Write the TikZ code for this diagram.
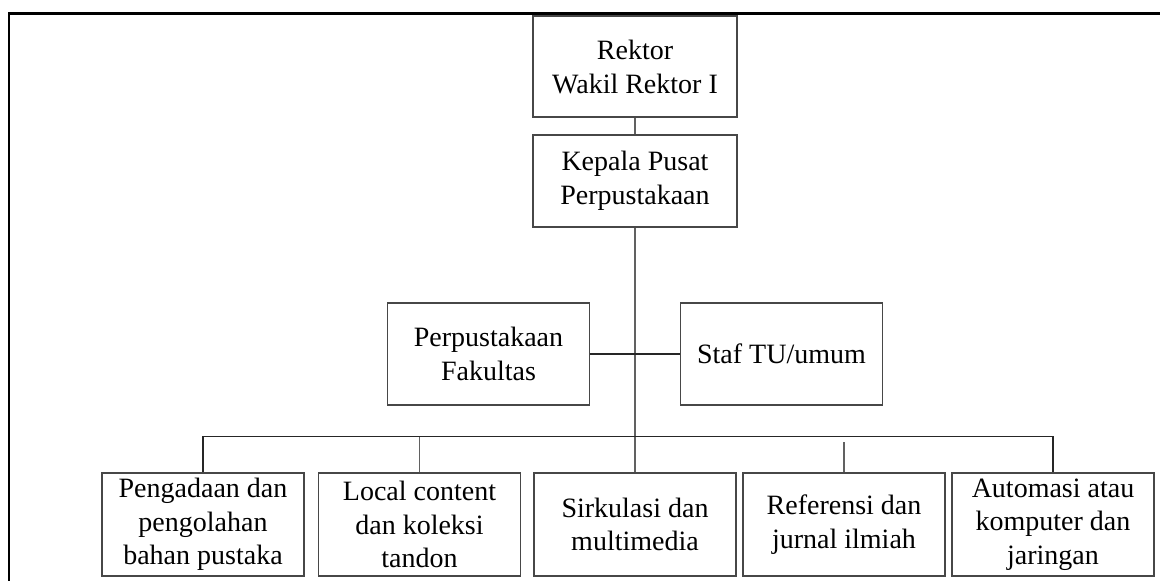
\documentclass[tikz,border=0pt]{standalone}
\usepackage{fontspec}
\setmainfont{Liberation Serif}
\begin{document}
\begin{tikzpicture}[x=0.75pt,y=-0.75pt,
  box/.style={draw=black!72, line width=0.9pt, inner sep=0pt, align=center,
    minimum width=151.5pt, font=\fontsize{21pt}{25.5pt}\selectfont},
  lowbox/.style={box, minimum height=77.25pt, font=\fontsize{21pt}{25pt}\selectfont},
  conn/.style={draw=black!62, line width=1pt},
  bus/.style={draw=black!85, line width=0.9pt},
  frame/.style={draw=black, line width=1.7pt}]
\clip (0,0) rectangle (1160,581);
\draw[frame] (9,640) -- (9,13.5) -- (1200,13.5);
\node[box, minimum width=153pt, minimum height=75.75pt] (R) at (635,66.5) {Rektor\\Wakil Rektor I};
\node[box, minimum width=153pt, minimum height=69pt] (K) at (635,181) {Kepala Pusat\\Perpustakaan};
\node[box, minimum height=76.5pt] (PF) at (488.5,354) {Perpustakaan\\Fakultas};
\node[box, minimum height=76.5pt] (ST) at (781.5,354) {Staf TU/umum};
\node[lowbox] (B1) at (203,524.5) {Pengadaan dan\\pengolahan\\bahan pustaka};
\node[lowbox] (B2) at (419.5,524.5) {Local content\\dan koleksi\\tandon};
\node[lowbox] (B3) at (635,524.5) {Sirkulasi dan\\multimedia};
\node[lowbox] (B4) at (844,524.5) {Referensi dan\\jurnal ilmiah};
\node[lowbox] (B5) at (1053,524.5) {Automasi atau\\komputer dan\\jaringan};
\coordinate (busy) at (0,436.5);
\coordinate (gapy) at (0,442);
\draw[conn] (R.south) -- (K.north);
\draw[conn] (K.south) -- (B3.north);
\draw[bus] (PF.east) -- (ST.west);
\draw[bus] (B1.north) -- (B1.north |- busy) -- (B5.north |- busy) -- (B5.north);
\draw[conn] (B2.north) -- (B2.north |- busy);
\draw[conn] (B4.north) -- (B4.north |- gapy);
\end{tikzpicture}
\end{document}
